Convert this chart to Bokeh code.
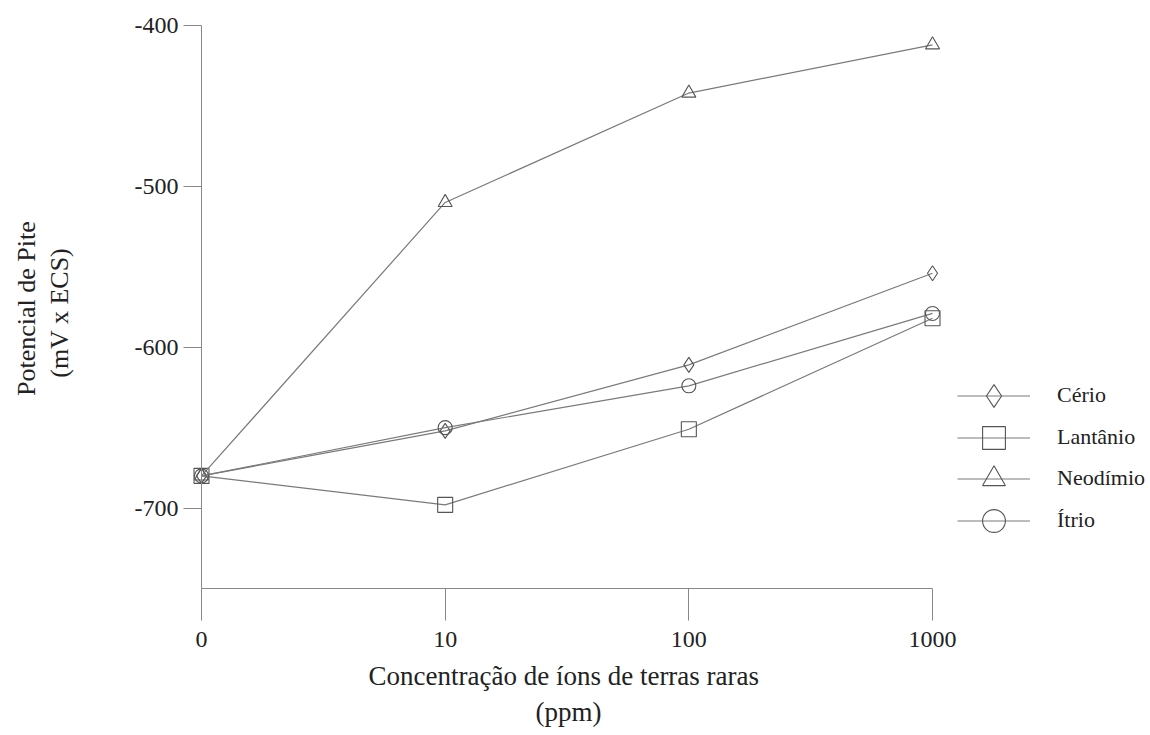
from bokeh.plotting import figure
from bokeh.models import Range1d, FixedTicker, Legend, LegendItem, Title
from bokeh.embed import file_html
from bokeh.resources import INLINE

# ---- data ----
conc_labels = ["0", "10", "100", "1000"]
conc_pos = [0, 1, 2, 3]
cerio = [-680, -652, -611, -554]
lantanio = [-680, -698, -651, -582]
neodimio = [-680, -510, -442, -412]
itrio = [-680, -650, -624, -579]
y_ticks = [-400, -500, -600, -700]
y_tick_labels = ["-400", "-500", "-600", "-700"]

series = [
    ("Cério", cerio, "diamond", 15),
    ("Lantânio", lantanio, "square", 15),
    ("Neodímio", neodimio, "triangle", 14),
    ("Ítrio", itrio, "circle", 14),
]

FONT = "Liberation Serif"
LINE_C = "#7a7a7a"
MARK_C = "#555555"
TEXT_C = "#222222"

FL = 82   # frame left (px)
FB = 588  # frame bottom (px)
x0_px, px_per_x = 201.0, 243.67
y_top_px, px_per_y = 25.0, 1.6086
FT = 10

p = figure(width=1150, height=735, output_backend="svg", toolbar_location=None,
           x_range=Range1d((FL - x0_px) / px_per_x, (1150 - x0_px) / px_per_x),
           y_range=Range1d(-750, -400 + (y_top_px - FT) / px_per_y),
           min_border_left=FL, min_border_right=0, min_border_top=FT,
           min_border_bottom=735 - FB)
p.outline_line_color = None
p.xgrid.visible = False
p.ygrid.visible = False
p.background_fill_color = "white"

items = []
for name, vals, marker, size in series:
    r_line = p.line(conc_pos, vals, line_color=LINE_C, line_width=1.2)
    r_mark = p.scatter(conc_pos, vals, marker=marker, size=size, fill_alpha=0,
                       line_color=MARK_C, line_width=1.1)
    items.append(LegendItem(label=name, renderers=[r_line, r_mark]))

# x axis
xa = p.xaxis[0]
xa.ticker = FixedTicker(ticks=conc_pos)
xa.major_label_overrides = {i: s for i, s in zip(conc_pos, conc_labels)}
xa.bounds = (0, 3)
xa.minor_tick_line_color = None
xa.major_tick_in = 0
xa.major_tick_out = 32
xa.major_label_standoff = 11
xa.axis_line_color = "#888888"
xa.major_tick_line_color = "#888888"
xa.major_label_text_font = FONT
xa.major_label_text_font_size = "24px"
xa.major_label_text_color = TEXT_C

# y axis
ya = p.yaxis[0]
ya.ticker = FixedTicker(ticks=y_ticks)
ya.major_label_overrides = {t: s for t, s in zip(y_ticks, y_tick_labels)}
ya.bounds = (-750, -400)
ya.fixed_location = 0
ya.minor_tick_line_color = None
ya.major_tick_in = 0
ya.major_tick_out = 18
ya.major_label_standoff = 5
ya.axis_line_color = "#888888"
ya.major_tick_line_color = "#888888"
ya.major_label_text_font = FONT
ya.major_label_text_font_size = "24px"
ya.major_label_text_color = TEXT_C

# y axis label (two lines)
p.add_layout(Title(text="Potencial de Pite\u2002\u2009\n\u2002\u2009(mV x ECS)",
                   align="center", standoff=16, text_font=FONT, text_font_size="26px",
                   text_font_style="normal", text_color=TEXT_C, text_line_height=1.17),
             "left")

def title(text, size, standoff, offset):
    return Title(text=text, align="left", offset=offset, standoff=standoff,
                 text_font=FONT, text_font_size=size, text_font_style="normal",
                 text_color=TEXT_C)

# x axis label (two lines)
p.add_layout(title("Concentração de íons de terras raras", "27px", 18, 368 - FL), "below")
p.add_layout(title("(ppm)", "27px", -10, 535 - FL), "below")

# legend: one block per row for exact row placement
row_centers = [395, 437, 478, 520]
GH = 57
for item, c in zip(items, row_centers):
    lg = Legend(items=[item], location=(957 - FL, FB - c - GH / 2), orientation="vertical",
                glyph_width=73, glyph_height=GH, label_height=GH, spacing=0,
                padding=0, margin=0, label_standoff=27,
                label_text_font=FONT, label_text_font_size="22px", label_text_color=TEXT_C,
                border_line_alpha=0, background_fill_alpha=0)
    p.add_layout(lg)

open("out.html", "w").write(file_html(p, INLINE))
